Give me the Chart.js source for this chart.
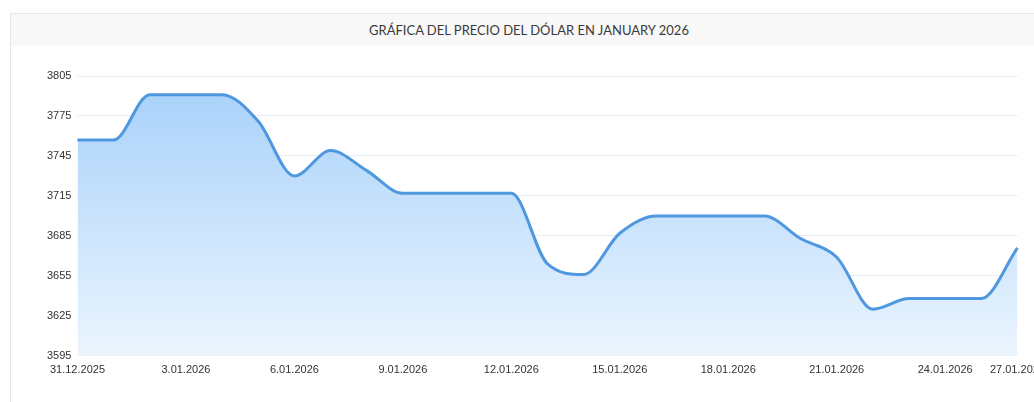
<!DOCTYPE html>
<html>
<head>
<meta charset="utf-8">
<script src="https://cdn.jsdelivr.net/npm/chart.js@4/dist/chart.umd.min.js"></script>
<style>
  html, body { margin: 0; padding: 0; background: #fff; overflow: hidden; width: 1034px; height: 402px; }
  .card { position: absolute; left: 10px; top: 13px; width: 1036px; height: 420px; border: 1px solid #e6e6e6; background: #fff; }
  .card-header { height: 32px; line-height: 33px; background: #f8f8f8; text-align: center; font-family: Lato, sans-serif; font-size: 13px; color: #3a3a3a; }
  .chart-box { position: absolute; left: 0; top: 33px; width: 1042px; height: 338px; }
</style>
</head>
<body>
<div class="card">
  <div class="card-header">GRÁFICA DEL PRECIO DEL DÓLAR EN JANUARY 2026</div>
  <div class="chart-box"><canvas id="graficoDolar"></canvas></div>
</div>
<script>
// Fechas (eje X)
const fechas = [
  "31.12.2025", "1.01.2026", "2.01.2026", "3.01.2026", "4.01.2026", "5.01.2026",
  "6.01.2026", "7.01.2026", "8.01.2026", "9.01.2026", "10.01.2026", "11.01.2026",
  "12.01.2026", "13.01.2026", "14.01.2026", "15.01.2026", "16.01.2026", "17.01.2026",
  "18.01.2026", "19.01.2026", "20.01.2026", "21.01.2026", "22.01.2026", "23.01.2026",
  "24.01.2026", "25.01.2026", "27.01.2026",
];

// Precio del dólar
const precios = [
  3757, 3757, 3791, 3791, 3791, 3771, 3730, 3749, 3734, 3717, 3717, 3717,
  3717, 3664, 3656, 3687, 3700, 3700, 3700, 3700, 3683, 3669, 3630, 3638,
  3638, 3638, 3676,
];

// Eje Y
const yMin = 3595;
const yMax = 3805;
const yPaso = 30;

const ctx = document.getElementById("graficoDolar").getContext("2d");

function degradado(context) {
  const area = context.chart.chartArea;
  if (!area) return "rgba(170,210,250,0.8)";
  const g = context.chart.ctx.createLinearGradient(0, area.top, 0, area.bottom);
  g.addColorStop(0, "#a6d0fa");
  g.addColorStop(1, "#ebf5fe");
  return g;
}

const config = {
  type: "line",
  data: {
    labels: fechas,
    datasets: [
      {
        label: "Precio",
        data: precios,
        borderColor: "#4f98e0",
        borderWidth: 3,
        backgroundColor: degradado,
        fill: "origin",
        pointRadius: 0,
        cubicInterpolationMode: "monotone",
      },
    ],
  },
  options: {
    responsive: true,
    maintainAspectRatio: false,
    animation: false,
    layout: { padding: { left: 30, top: 29, right: 0, bottom: 0 } },
    plugins: { legend: { display: false }, tooltip: { enabled: false } },
    scales: {
      x: {
        grid: { display: false, drawTicks: false },
        border: { display: false },
        ticks: {
          autoSkip: false,
          maxRotation: 0,
          padding: 8,
          color: "#333",
          font: { family: "Liberation Sans", size: 11 },
          callback: (v, i) => (i % 3 === 0 || i === fechas.length - 1 ? fechas[i] : ""),
        },
      },
      y: {
        min: yMin,
        max: yMax,
        border: { display: false },
        grid: { color: "#e6edf3", lineWidth: 1, drawTicks: false },
        ticks: {
          stepSize: yPaso,
          padding: 6,
          color: "#333",
          font: { family: "Liberation Sans", size: 11 },
          callback: (v) => String(v),
        },
      },
    },
  },
};

new Chart(ctx, config);
</script>
</body>
</html>
